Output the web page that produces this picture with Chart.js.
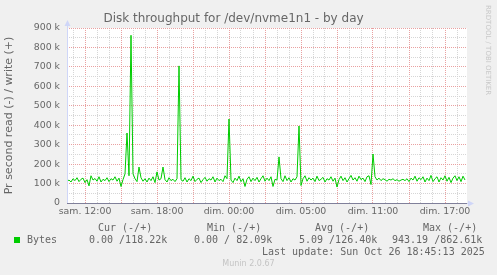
<!DOCTYPE html>
<html><head><meta charset="utf-8">
<script src="https://cdn.jsdelivr.net/npm/chart.js@4"></script>
<style>
html,body{margin:0;padding:0;background:#F0F0F0;}
#wrap{position:relative;width:497px;height:275px;overflow:hidden;}
canvas{position:absolute;left:0;top:0;}
.t{position:absolute;font-family:"DejaVu Sans Mono",monospace;font-size:10px;color:#666666;white-space:pre;line-height:12px;}
#munin{position:absolute;left:0;width:497px;text-align:center;top:259px;font-family:"DejaVu Sans",sans-serif;font-size:8px;line-height:10px;color:#c4c4c4;}
#rrd{position:absolute;left:483px;top:5px;writing-mode:vertical-rl;font-family:"DejaVu Sans",sans-serif;font-size:7px;line-height:9px;color:#c8c8c8;white-space:pre;}
#sq{position:absolute;left:14px;top:237px;width:6px;height:6px;background:#00CC00;}
</style></head><body>
<div id="wrap">
<canvas id="c" width="497" height="275"></canvas>
<div id="sq"></div>
<div id="legend"></div>
<div id="munin">Munin 2.0.67</div>
<div id="rrd">RRDTOOL / TOBI OETIKER</div>
</div>
<script>
// ---- data ----
const TITLE = "Disk throughput for /dev/nvme1n1 - by day";
const Y_TITLE = "Pr second read (-) / write (+)";
const seriesName = "Bytes";
// write throughput in k bytes/s, one sample every 10 minutes, starting Sat 10:30
const startHour = 10.5;
const stepHours = 1 / 6;
const writeK = [
 112,118,108,125,115,130,110,122,128,105,
 120,88,140,118,126,112,135,108,122,115,
 130,110,125,118,135,112,128,85,120,150,
 360,140,862.61,150,125,110,185,130,112,125,
 108,128,115,135,105,160,118,125,185,120,
 108,130,115,122,110,125,705,120,112,130,
 108,125,115,138,110,122,128,105,120,132,
 112,125,118,135,108,128,115,122,110,140,
 125,432,118,105,128,115,138,110,125,85,
 122,135,110,128,115,132,108,125,140,112,
 128,115,135,85,122,118,237,125,110,140,
 115,130,108,125,118,135,396,90,125,140,
 112,130,118,128,110,138,115,122,132,108,
 125,118,135,112,128,82.09,120,138,115,130,
 108,125,142,118,130,112,138,120,128,110,
 135,140,95,252,135,118,128,115,125,120,
 112,122,118,125,115,120,112,118,122,115,
 125,110,128,118,138,112,130,120,135,108,
 128,115,142,110,125,135,108,130,118,140,
 112,132,105,128,140,115,135,110,138,118.22
];
const xTickLabels = ["sam. 12:00","sam. 18:00","dim. 00:00","dim. 05:00","dim. 11:00","dim. 17:00"];
const yTickLabels = ["0","100 k","200 k","300 k","400 k","500 k","600 k","700 k","800 k","900 k"];
const legendHeaders = ["Cur (-/+)","Min (-/+)","Avg (-/+)","Max (-/+)"];
const legendValues = ["0.00 /118.22k","0.00 / 82.09k","5.09 /126.40k","943.19 /862.61k"];
const lastUpdate = "Last update: Sun Oct 26 18:45:13 2025";

// ---- legend text ----
(function(){
  const L = document.getElementById('legend');
  const hx = [98,207,315,423], vx = [89,194,299,392];
  let h = '';
  legendHeaders.forEach((t,i)=>{ h += `<div class="t" style="left:${hx[i]}px;top:222px">${t}</div>`; });
  h += `<div class="t" style="left:27px;top:233.5px">${seriesName}</div>`;
  legendValues.forEach((t,i)=>{ h += `<div class="t" style="left:${vx[i]}px;top:233.5px">${t}</div>`; });
  h += `<div class="t" style="left:262px;top:246px">${lastUpdate}</div>`;
  L.innerHTML = h;
})();

const pts = writeK.map((v,i)=>({x: startHour + i*stepHours, y: v*1000}));
const xMax = startHour + 400/12;

const bgPlugin = {
  id:'bg',
  beforeDraw(chart){
    const {ctx, chartArea:a} = chart;
    ctx.save();
    ctx.fillStyle = '#F0F0F0';
    ctx.fillRect(0,0,chart.width,chart.height);
    ctx.fillStyle = '#FFFFFF';
    ctx.fillRect(a.left, a.top, a.right-a.left, a.bottom-a.top);
    ctx.restore();
  }
};
const axisPlugin = {
  id:'axes',
  afterDatasetsDraw(chart){
    const {ctx, chartArea:a} = chart;
    const L = Math.round(a.left)+0.5, B = Math.round(a.bottom)+0.5;
    ctx.save();
    ctx.strokeStyle = '#CFD6F8'; ctx.fillStyle = '#CFD6F8'; ctx.lineWidth = 1;
    ctx.beginPath(); ctx.moveTo(L, B); ctx.lineTo(L, a.top-3); ctx.stroke();
    ctx.beginPath(); ctx.moveTo(L-3, a.top-2); ctx.lineTo(L+3, a.top-2); ctx.lineTo(L, a.top-8); ctx.closePath(); ctx.fill();
    ctx.beginPath(); ctx.moveTo(L, B); ctx.lineTo(a.right+2, B); ctx.stroke();
    ctx.beginPath(); ctx.moveTo(a.right+1, B-3); ctx.lineTo(a.right+1, B+3); ctx.lineTo(a.right+7, B); ctx.closePath(); ctx.fill();
    ctx.strokeStyle = '#80809a';
    ctx.beginPath(); ctx.moveTo(a.left, B); ctx.lineTo(a.right, B); ctx.stroke();
    ctx.restore();
  }
};

const tickFont = {family:'"DejaVu Sans"', size:9.4};
new Chart(document.getElementById('c'), {
  type:'line',
  data:{datasets:[{label:seriesName, data:pts, borderColor:'#00CC00', borderWidth:1, pointRadius:0, tension:0, fill:false}]},
  options:{
    responsive:false, animation:false,
    layout:{padding:{left:0,right:30,top:0,bottom:0}},
    plugins:{
      legend:{display:false}, tooltip:{enabled:false},
      title:{display:true, text:TITLE, color:'#666666', font:{family:'"DejaVu Sans"', size:12, weight:'normal'}, padding:{top:12,bottom:1.6}}
    },
    scales:{
      x:{
        type:'linear', min:startHour, max:xMax,
        afterFit(s){ s.height = 72; },
        afterBuildTicks(s){ const t=[]; for(let h=11; h<=43; h++) t.push({value:h}); s.ticks=t; },
        grid:{drawTicks:false, lineWidth:1,
          color(c){ const v=Math.round(c.tick.value); return (v%3===0)?'#e9a1a1':'#d6d6d6'; }},
        border:{display:false, dash:[1,1]},
        ticks:{autoSkip:false, maxRotation:0, minRotation:0, padding:3, color:'#666666', font:tickFont,
          callback(v){ const r=Math.round(v); if(r>=12 && r%6===0){ return xTickLabels[(r-12)/6] || ''; } return ''; }}
      },
      y:{
        min:0, max:900000,
        afterFit(s){ s.width = 67; },
        afterBuildTicks(s){ const t=[]; for(let v=0; v<=900000; v+=50000) t.push({value:v}); s.ticks=t; },
        grid:{drawTicks:false, lineWidth:1,
          color(c){ return (Math.round(c.tick.value)%100000===0)?'#e9a1a1':'#d6d6d6'; }},
        border:{display:false, dash:[1,1]},
        title:{display:true, text:Y_TITLE, color:'#666666', font:{family:'"DejaVu Sans"', size:11}, padding:{top:3,bottom:0}},
        ticks:{autoSkip:false, padding:7, color:'#666666', font:tickFont,
          callback(v){ return (Math.round(v)%100000===0)? yTickLabels[Math.round(v/100000)] : ''; }}
      }
    }
  },
  plugins:[bgPlugin, axisPlugin]
});
</script>
</body></html>
